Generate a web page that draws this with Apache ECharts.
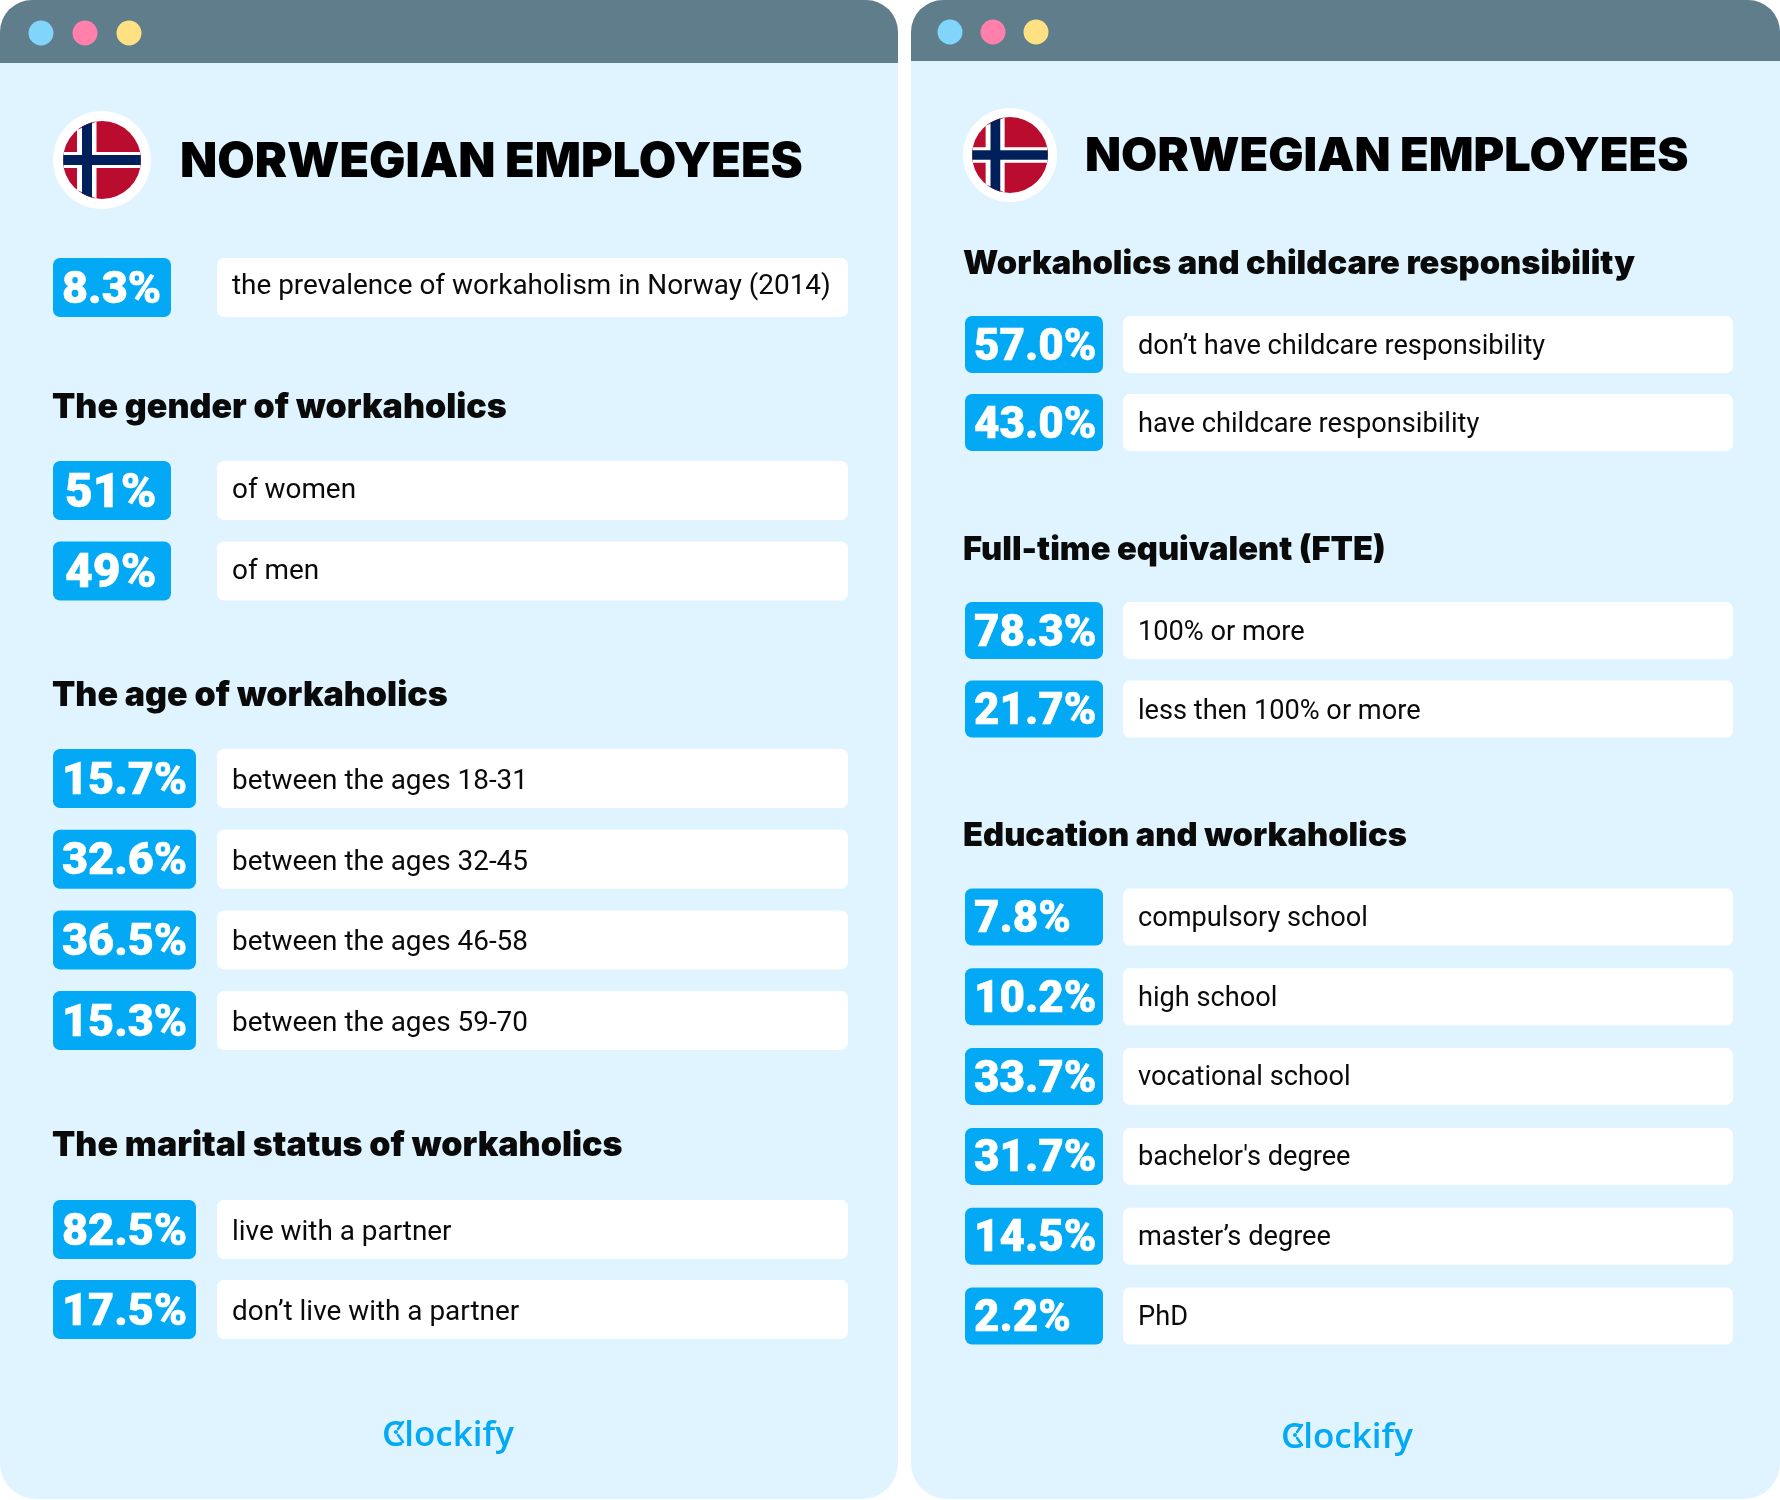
<!DOCTYPE html>
<html>
<head>
<meta charset="utf-8">
<title>Norwegian employees</title>
<script src="https://cdn.jsdelivr.net/npm/echarts@6/dist/echarts.min.js"></script>
<style>
  html, body { margin: 0; padding: 0; background: #fff; }
  #main { width: 1780px; height: 1500px; }
</style>
</head>
<body>
<div id="main"></div>
<script>
// chart values
var pageTitle = 'NORWEGIAN EMPLOYEES'
var brandName = 'Clockify'

var prevalenceLabels = ['the prevalence of workaholism in Norway (2014)']
var prevalenceValues = [8.3]

var genderTitle = 'The gender of workaholics'
var genderLabels = ['of women', 'of men']
var genderValues = [51, 49]

var ageTitle = 'The age of workaholics'
var ageLabels = ['between the ages 18-31', 'between the ages 32-45', 'between the ages 46-58', 'between the ages 59-70']
var ageValues = [15.7, 32.6, 36.5, 15.3]

var maritalTitle = 'The marital status of workaholics'
var maritalLabels = ['live with a partner', 'don\u2019t live with a partner']
var maritalValues = [82.5, 17.5]

var childcareTitle = 'Workaholics and childcare responsibility'
var childcareLabels = ['don\u2019t have childcare responsibility', 'have childcare responsibility']
var childcareValues = [57.0, 43.0]

var fteTitle = 'Full-time equivalent (FTE)'
var fteLabels = ['100% or more', 'less then 100% or more']
var fteValues = [78.3, 21.7]

var educationTitle = 'Education and workaholics'
var educationLabels = ['compulsory school', 'high school', 'vocational school', 'bachelor\'s degree', 'master\u2019s degree', 'PhD']
var educationValues = [7.8, 10.2, 33.7, 31.7, 14.5, 2.2]

// colours
var PANEL = '#dff4fe'
var BAR = '#607d8b'
var BLUE = '#03a9f4'
var FONT = 'Roboto'
var HEAD_FONT = 'Inter'

// one grid per block of rows
var leftPanel = { left: 53, right: 848, labelAt: 164, rowHeight: 59, fontSize: 27.9 }
var rightPanel = { left: 965, right: 1733, labelAt: 158, rowHeight: 57, fontSize: 27.2 }
var blocks = [
  { panel: leftPanel, labels: prevalenceLabels, values: prevalenceValues, digits: 1, center: 287.5, step: 80, pill: 118, textDy: 0, pillFont: 45, pillPad: 9 },
  { panel: leftPanel, labels: genderLabels, values: genderValues, digits: 0, center: 490.5, step: 80.5, pill: 118, textDy: 1, pillFont: 48, pillPad: 12 },
  { panel: leftPanel, labels: ageLabels, values: ageValues, digits: 1, center: 778.5, step: 80.7, pill: 143, textDy: 3.5, pillFont: 45, pillPad: 9 },
  { panel: leftPanel, labels: maritalLabels, values: maritalValues, digits: 1, center: 1229.5, step: 80, pill: 143, textDy: 3.5, pillFont: 45, pillPad: 9 },
  { panel: rightPanel, labels: childcareLabels, values: childcareValues, digits: 1, center: 344.5, step: 78, pill: 138, textDy: 3, pillFont: 44, pillPad: 9 },
  { panel: rightPanel, labels: fteLabels, values: fteValues, digits: 1, center: 630.5, step: 78.5, pill: 138, textDy: 3, pillFont: 44, pillPad: 9 },
  { panel: rightPanel, labels: educationLabels, values: educationValues, digits: 1, center: 917, step: 79.8, pill: 138, textDy: 2, pillFont: 44, pillPad: 9 }
]

var grids = []
var xAxes = []
var yAxes = []
var seriesList = []

blocks.forEach(function (b, n) {
  grids.push({
    left: b.panel.left,
    width: b.panel.right - b.panel.left,
    top: b.center - b.step / 2,
    height: b.step * b.labels.length
  })
  xAxes.push({ type: 'value', gridIndex: n, min: 0, max: 1, show: false })
  yAxes.push({ type: 'category', gridIndex: n, inverse: true, data: b.labels, show: false })
  seriesList.push({
    type: 'custom',
    xAxisIndex: n,
    yAxisIndex: n,
    encode: { x: 0, y: 1 },
    data: b.values.map(function (v, i) { return [0, i, v] }),
    renderItem: function (params, api) {
      var p = api.coord([0, api.value(1)])
      var h = b.panel.rowHeight
      var labelX = p[0] + b.panel.labelAt
      return {
        type: 'group',
        children: [
          {
            type: 'rect',
            shape: { x: p[0], y: p[1] - h / 2, width: b.pill, height: h, r: 7 },
            style: { fill: BLUE }
          },
          {
            type: 'rect',
            shape: { x: labelX, y: p[1] - h / 2, width: b.panel.right - labelX, height: h, r: 7 },
            style: { fill: '#fff' }
          },
          {
            type: 'text',
            style: {
              text: api.value(2).toFixed(b.digits) + '%',
              x: p[0] + b.pillPad,
              y: p[1] + 4,
              fill: '#fff',
              stroke: '#fff',
              lineWidth: 0.5,
              fontFamily: FONT,
              fontWeight: 900,
              fontSize: b.pillFont,
              textAlign: 'left',
              textVerticalAlign: 'middle'
            }
          },
          {
            type: 'text',
            style: {
              text: b.labels[params.dataIndex],
              x: labelX + 15,
              y: p[1] + b.textDy,
              fill: '#0a0a0a',
              fontFamily: FONT,
              fontWeight: 400,
              fontSize: b.panel.fontSize,
              textAlign: 'left',
              textVerticalAlign: 'middle'
            }
          }
        ]
      }
    }
  })
})

function heading(text, x, y, size) {
  return {
    text: text,
    left: x,
    top: y - 20,
    padding: 0,
    textStyle: { fontFamily: HEAD_FONT, fontWeight: 900, fontSize: size, color: '#0a0a0a', lineHeight: 40 }
  }
}
function bigTitle(text, x, y, size) {
  return {
    text: text,
    left: x,
    top: y - 28,
    padding: 0,
    textStyle: { fontFamily: HEAD_FONT, fontWeight: 900, fontSize: size, color: '#000', lineHeight: 56 }
  }
}
function brand(text, x, y) {
  return {
    text: text,
    left: x,
    top: y - 24,
    padding: 0,
    textStyle: { fontFamily: 'Open Sans', fontWeight: 600, fontSize: 35, color: BLUE, lineHeight: 48 }
  }
}

var titles = [
  bigTitle(pageTitle, 180, 162, 48.4),
  heading(genderTitle, 52, 407.5, 34),
  heading(ageTitle, 52, 695.5, 34),
  heading(maritalTitle, 52, 1145.5, 34),
  bigTitle(pageTitle, 1085, 157, 46.9),
  heading(childcareTitle, 963, 264.5, 32.7),
  heading(fteTitle, 963, 550.5, 32.7),
  heading(educationTitle, 963, 836.5, 32.7),
  brand(brandName, 382, 1436),
  brand(brandName, 1281, 1438)
]

// white disc with the clipped Norwegian cross
function chord(cx, cy, r, a, b, vertical) {
  var ha = Math.sqrt(r * r - a * a)
  var hb = Math.sqrt(r * r - b * b)
  var pts = [[a, -ha], [b, -hb], [b, hb], [a, ha]]
  return pts.map(function (q) {
    return vertical ? [cx + q[0], cy + q[1]] : [cx + q[1], cy + q[0]]
  })
}
function flag(cx, cy, outer, r) {
  var s = r / 39
  var parts = [
    { type: 'circle', shape: { cx: cx, cy: cy, r: outer }, style: { fill: '#fff' } },
    { type: 'circle', shape: { cx: cx, cy: cy, r: r }, style: { fill: '#ba0c2f' } }
  ]
  ;[[-25 * s, -5.5 * s, '#fff', -8 * s, 8 * s, '#fff'], [-20 * s, -10 * s, '#00205b', -5 * s, 5 * s, '#00205b']].forEach(function (c) {
    parts.push({ type: 'polygon', shape: { points: chord(cx, cy, r, c[0], c[1], true) }, style: { fill: c[2] } })
    parts.push({ type: 'polygon', shape: { points: chord(cx, cy, r, c[3], c[4], false) }, style: { fill: c[5] } })
  })
  return parts
}
function browser(x, w, headH, dots, dotY) {
  var parts = [
    { type: 'rect', shape: { x: x, y: 0, width: w, height: 1499, r: 36 }, style: { fill: PANEL } },
    { type: 'rect', shape: { x: x, y: 0, width: w, height: headH, r: [32, 32, 0, 0] }, style: { fill: BAR } }
  ]
  var colors = ['#81d4fa', '#ff80ab', '#ffe082']
  dots.forEach(function (d, i) {
    parts.push({ type: 'circle', shape: { cx: d, cy: dotY, r: 12.5 }, style: { fill: colors[i] } })
  })
  return parts
}
// clock dot and hands inside the logo C
function clockMark(x, y) {
  var hand = { stroke: BLUE, lineWidth: 2.5, lineCap: 'round' }
  return [
    { type: 'circle', shape: { cx: x, cy: y, r: 2 }, style: { fill: BLUE } },
    { type: 'line', shape: { x1: x + 2, y1: y - 3, x2: x + 7, y2: y - 10 }, style: hand },
    { type: 'line', shape: { x1: x + 2, y1: y + 3, x2: x + 7, y2: y + 10 }, style: hand }
  ]
}

var shapes = []
  .concat(browser(0, 898, 63, [41, 85, 129], 33))
  .concat(browser(911, 869, 61, [950, 993, 1036], 32))
  .concat(flag(102, 160, 49, 39))
  .concat(flag(1010, 155, 47, 38))
  .concat(clockMark(396, 1432))
  .concat(clockMark(1295, 1435))
shapes.forEach(function (s) { s.z = -10; s.silent = true })

var chart = echarts.init(document.getElementById('main'))
chart.setOption({
  backgroundColor: '#fff',
  animation: false,
  title: titles,
  graphic: { elements: shapes },
  grid: grids,
  xAxis: xAxes,
  yAxis: yAxes,
  series: seriesList
})
</script>
</body>
</html>
